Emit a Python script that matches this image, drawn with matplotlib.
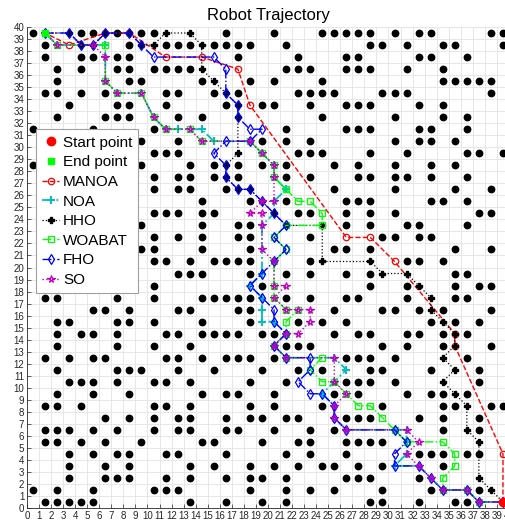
import matplotlib
matplotlib.use("Agg")
import matplotlib.pyplot as plt
import numpy as np

plt.rcParams['font.family'] = ['Liberation Sans', 'DejaVu Sans']

# obstacle columns for each grid row, row 0 at the bottom
obstacle_cols = [
    [1, 2, 3, 4, 5, 13, 16, 19, 21, 28, 29, 32, 35, 36],
    [0, 2, 5, 10, 11, 12, 18, 21, 23, 25, 29, 33, 37],
    [3, 6, 7, 8, 11, 13, 16, 18, 19, 21, 26, 27, 28, 32],
    [3, 6, 8, 13, 15, 18, 20, 22, 24, 25, 27, 29, 34],
    [3, 5, 7, 8, 11, 12, 16, 21, 23, 26, 32, 33, 34, 36, 37],
    [1, 2, 4, 6, 9, 14, 15, 19, 22, 23, 26, 27, 28, 29],
    [1, 2, 3, 5, 7, 10, 12, 13, 16, 17, 20, 23, 25, 34, 37],
    [6, 8, 10, 12, 13, 16, 18, 19, 21, 22, 26, 27, 28, 32, 34, 37],
    [1, 2, 4, 10, 11, 13, 18, 20, 24, 29, 34, 35, 38, 39],
    [2, 5, 8, 14, 16, 17, 20, 25, 27, 31, 33, 34, 36],
    [3, 4, 5, 7, 10, 11, 13, 18, 21, 26, 27, 28, 30, 37],
    [2, 7, 8, 9, 12, 15, 19, 22, 24, 28, 29, 33, 37],
    [1, 3, 5, 6, 11, 12, 14, 16, 17, 18, 20, 26, 27, 28, 30, 36],
    [2, 7, 10, 13, 21, 22, 23, 29, 31, 34, 38],
    [2, 4, 5, 7, 11, 12, 14, 15, 16, 17, 19, 20, 25, 27, 28, 31, 32, 34, 36],
    [2, 3, 7, 8, 10, 14, 18, 22, 24, 26, 33, 35, 37],
    [5, 6, 8, 12, 13, 17, 18, 25, 29, 30, 32, 34, 38],
    [1, 2, 7, 10, 14, 15, 16, 17, 18, 21, 23, 26, 27, 31, 35, 36],
    [8, 10, 19, 28, 31, 35, 37, 38],
    [8, 12, 13, 14, 18, 21, 23, 26, 28, 35, 36],
    [10, 11, 13, 15, 16, 17, 18, 23, 31, 32, 34],
    [9, 10, 14, 18, 25, 26, 28, 35, 38],
    [10, 12, 14, 17, 18, 23, 29, 30, 32, 33],
    [9, 14, 17, 18, 26, 28, 31, 32, 36],
    [10, 11, 12, 14, 15, 22, 23, 26, 28, 30, 37, 38],
    [14, 18, 21, 26, 27, 28, 33, 34, 36],
    [10, 12, 13, 16, 25, 30, 35, 38],
    [10, 12, 13, 15, 17, 21, 23, 27, 28, 30, 31, 33, 36],
    [0, 9, 13, 15, 17, 19, 21, 25, 27, 30, 33, 35],
    [10, 11, 12, 22, 23, 24, 28, 31, 36, 37, 39],
    [9, 12, 19, 21, 23, 30, 32, 33, 35],
    [0, 5, 10, 21, 26, 27, 28, 32, 33, 36],
    [2, 6, 7, 8, 12, 14, 24, 30, 34, 36],
    [3, 7, 8, 11, 16, 19, 20, 23, 26, 27, 28, 32, 34],
    [1, 2, 4, 6, 11, 12, 15, 17, 22, 23, 24, 25, 29, 30, 31, 38],
    [2, 8, 9, 14, 18, 20, 24, 34, 35, 36, 37, 38],
    [2, 4, 7, 8, 10, 11, 12, 13, 21, 22, 23, 26, 27, 28, 31, 34],
    [1, 4, 5, 7, 8, 17, 22, 26, 27, 32, 33, 36],
    [1, 8, 11, 12, 13, 15, 16, 17, 18, 21, 28, 29, 31, 34, 35, 39],
    [0, 4, 5, 7, 9, 10, 16, 20, 24, 25, 26, 27, 28, 30, 32, 33, 38, 39],
]

start_pt = (39.5, 0.5)
end_pt = (1.5, 39.5)

manoa_x = [39.5, 39.5, 35.5, 35.5, 30.5, 28.5, 26.5, 18.5, 17.5, 14.5, 11.5, 8.5, 6.5, 3.5, 1.5]
manoa_y = [0.5, 4.5, 13.5, 14.5, 20.5, 22.5, 22.5, 33.5, 36.5, 37.5, 37.5, 39.5, 39.5, 38.5, 39.5]

noa_x = [1.5, 2.5, 6.5, 6.5, 6.5, 7.5, 9.5, 10.5, 11.5, 12.5, 14.5, 15.5, 18.5, 19.5, 20.5, 20.5,
         21.5, 20.5, 20.5, 19.5, 19.5, 18.5, 19.5, 19.5, 19.5, 20.5, 21.5, 20.5, 21.5, 25.5, 26.5,
         25.5, 24.5, 25.5, 25.5, 26.5, 30.5, 31.5, 31.5, 31.5, 30.5, 32.5, 33.5, 34.5, 36.5, 37.5, 39.5]
noa_y = [39.5, 38.5, 38.5, 37.5, 35.5, 34.5, 34.5, 32.5, 31.5, 31.5, 31.5, 30.5, 30.5, 29.5, 28.5, 27.5,
         26.5, 25.5, 24.5, 23.5, 19.5, 18.5, 17.5, 16.5, 15.5, 15.5, 14.5, 13.5, 12.5, 12.5, 11.5,
         10.5, 9.5, 8.5, 7.5, 6.5, 6.5, 6.5, 5.5, 4.5, 3.5, 3.5, 2.5, 1.5, 1.5, 0.5, 0.5]

hho_x = [1.5, 3.5, 4.5, 5.5, 6.5, 8.5, 9.5, 10.5, 11.5, 13.5, 14.5, 14.5, 15.5, 16.5, 17.5, 17.5,
         17.5, 16.5, 16.5, 17.5, 18.5, 19.5, 20.5, 21.5, 24.5, 24.5, 28.5, 29.5, 31.5, 32.5, 33.5,
         33.5, 34.5, 35.5, 35.5, 34.5, 35.5, 34.5, 35.5, 36.5, 36.5, 37.5, 37.5, 38.5, 39.5]
hho_y = [39.5, 39.5, 38.5, 38.5, 39.5, 39.5, 38.5, 38.5, 39.5, 39.5, 38.5, 36.5, 35.5, 34.5, 33.5, 32.5,
         29.5, 28.5, 27.5, 26.5, 26.5, 25.5, 24.5, 23.5, 23.5, 20.5, 20.5, 19.5, 19.5, 18.5, 17.5,
         16.5, 15.5, 14.5, 13.5, 12.5, 11.5, 10.5, 9.5, 8.5, 6.5, 5.5, 2.5, 1.5, 0.5]

woabat_x = [1.5, 2.5, 6.5, 6.5, 7.5, 9.5, 10.5, 11.5, 13.5, 14.5, 18.5, 19.5, 20.5, 20.5, 21.5, 22.5,
            23.5, 24.5, 24.5, 21.5, 20.5, 21.5, 20.5, 20.5, 20.5, 21.5, 22.5, 21.5, 21.5, 20.5, 21.5,
            24.5, 23.5, 24.5, 25.5, 26.5, 27.5, 28.5, 29.5, 30.5, 31.5, 34.5, 35.5, 35.5, 34.5, 34.5,
            36.5, 37.5, 39.5]
woabat_y = [39.5, 38.5, 38.5, 35.5, 34.5, 34.5, 32.5, 31.5, 31.5, 30.5, 30.5, 29.5, 28.5, 27.5, 26.5, 25.5,
            25.5, 24.5, 23.5, 23.5, 22.5, 21.5, 20.5, 18.5, 17.5, 16.5, 16.5, 15.5, 14.5, 13.5, 12.5,
            12.5, 11.5, 10.5, 10.5, 9.5, 8.5, 8.5, 7.5, 6.5, 5.5, 5.5, 4.5, 3.5, 2.5, 1.5,
            1.5, 0.5, 0.5]

fho_x = [1.5, 3.5, 4.5, 5.5, 6.5, 8.5, 9.5, 10.5, 15.5, 16.5, 16.5, 17.5, 17.5, 18.5, 19.5, 18.5,
         16.5, 15.5, 16.5, 16.5, 17.5, 18.5, 19.5, 20.5, 21.5, 20.5, 21.5, 20.5, 19.5, 18.5, 19.5,
         20.5, 20.5, 21.5, 20.5, 21.5, 23.5, 23.5, 22.5, 23.5, 24.5, 25.5, 25.5, 26.5, 30.5, 31.5,
         30.5, 30.5, 32.5, 33.5, 34.5, 36.5, 37.5, 39.5]
fho_y = [39.5, 39.5, 38.5, 38.5, 39.5, 39.5, 38.5, 37.5, 37.5, 36.5, 34.5, 33.5, 32.5, 31.5, 31.5, 30.5,
         30.5, 29.5, 28.5, 27.5, 26.5, 26.5, 25.5, 24.5, 23.5, 22.5, 21.5, 20.5, 19.5, 18.5, 17.5,
         16.5, 15.5, 14.5, 13.5, 12.5, 12.5, 11.5, 10.5, 9.5, 9.5, 8.5, 7.5, 6.5, 6.5, 5.5,
         4.5, 3.5, 3.5, 2.5, 1.5, 1.5, 0.5, 0.5]

so_x = [1.5, 2.5, 5.5, 6.5, 6.5, 7.5, 9.5, 10.5, 11.5, 13.5, 14.5, 18.5, 19.5, 20.5, 20.5, 20.5,
        19.5, 18.5, 19.5, 19.5, 19.5, 20.5, 20.5, 21.5, 20.5, 21.5, 22.5, 23.5, 23.5, 22.5, 21.5,
        20.5, 21.5, 25.5, 25.5, 26.5, 25.5, 25.5, 26.5, 31.5, 32.5, 31.5, 32.5, 33.5, 34.5, 36.5,
        37.5, 39.5]
so_y = [39.5, 38.5, 38.5, 37.5, 35.5, 34.5, 34.5, 32.5, 31.5, 31.5, 30.5, 30.5, 29.5, 28.5, 27.5, 25.5,
        25.5, 24.5, 24.5, 23.5, 21.5, 20.5, 18.5, 18.5, 17.5, 16.5, 16.5, 16.5, 15.5, 14.5, 14.5,
        13.5, 12.5, 12.5, 10.5, 9.5, 8.5, 7.5, 6.5, 6.5, 5.5, 4.5, 3.5, 2.5, 1.5, 1.5,
        0.5, 0.5]

fig = plt.figure(figsize=(5.06, 5.25), dpi=100)
ax = fig.add_axes([27 / 506, 17 / 525, 482 / 506, 481 / 525])

# obstacles sit at the cell centres
obs_x, obs_y = [], []
for row, cols in enumerate(obstacle_cols):
    for c in cols:
        obs_x.append(c + 0.5)
        obs_y.append(row + 0.5)
ax.plot(obs_x, obs_y, 'o', color='k', markersize=4.6, zorder=2)

h_start, = ax.plot(*start_pt, 'o', color='r', markersize=6, zorder=10, label='Start point')
h_end, = ax.plot(*end_pt, 's', color='#00ff00', markersize=5, zorder=10, label='End point')

h1, = ax.plot(manoa_x, manoa_y, '--o', color='r', lw=1, markersize=4.6, mfc='none', mew=0.9,
              zorder=3, label='MANOA')
h2, = ax.plot(noa_x, noa_y, '-.+', color='c', lw=1.3, markersize=6, mew=1.4, zorder=4, label='NOA')
h3, = ax.plot(hho_x, hho_y, ':P', color='k', lw=0.9, markersize=4.6, zorder=5, label='HHO')
h4, = ax.plot(woabat_x, woabat_y, '-.s', color='#00ff00', lw=1, markersize=4, mfc='none', mew=0.9,
              zorder=5, label='WOABAT')
h5, = ax.plot(fho_x, fho_y, '-.d', color='b', lw=1, markersize=4.8, mfc='none', mew=0.9,
              zorder=6, label='FHO')
h6, = ax.plot(so_x, so_y, ':*', color='m', lw=1, markersize=5.5, mfc='none', mew=0.9,
              zorder=7, label='SO')

ax.set_xlim(0, 40)
ax.set_ylim(0, 40)
ax.set_xticks(np.arange(0, 41))
ax.set_yticks(np.arange(0, 41))
ax.grid(True, color='#e3e3e3', lw=0.6, zorder=0)
ax.set_axisbelow(True)
ax.tick_params(direction='in', length=3, width=0.5, labelsize=7, colors='#262626', pad=2)
for side in ['top', 'right']:
    ax.spines[side].set_visible(False)
for side in ['left', 'bottom']:
    ax.spines[side].set_color('#262626')
    ax.spines[side].set_linewidth(0.6)

ax.set_title('Robot Trajectory', fontsize=12, pad=5)

leg = ax.legend(handles=[h_start, h_end, h1, h2, h3, h4, h5, h6], loc='upper left',
                bbox_to_anchor=(0.019, 0.787), fontsize=11, frameon=True, fancybox=False,
                framealpha=1, edgecolor='#a0a0a0', borderpad=0.4, labelspacing=0.37,
                handlelength=1.1, handletextpad=0.25, borderaxespad=0)
leg.get_frame().set_linewidth(0.8)
leg.set_zorder(20)

fig.savefig('out.png', dpi=100)
